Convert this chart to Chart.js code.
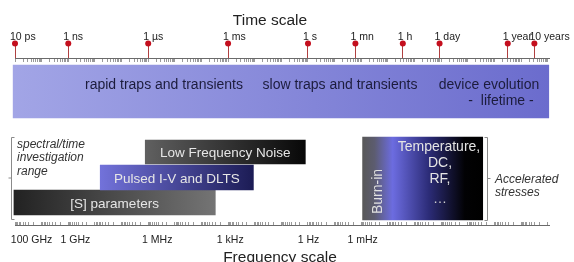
<!DOCTYPE html>
<html>
<head>
<meta charset="utf-8">
<script src="https://cdn.jsdelivr.net/npm/chart.js@4"></script>
<style>
    html, body { margin: 0; padding: 0; background: #fff; }
</style>
</head>
<body>
<canvas id="chart" width="574" height="262"></canvas>
<script>
// TIME SCALE (log10 of seconds)
const timeLabels = ['10 ps', '1 ns', '1 µs', '1 ms', '1 s', '1 mn', '1 h', '1 day', '1 year', '10 years']
const timeValues = [-11, -9, -6, -3, 0, 1.78, 3.56, 4.94, 7.5, 8.5]

// FREQUENCY SCALE (label positions on the same axis)
const freqLabels = ['100 GHz', '1 GHz', '1 MHz', '1 kHz', '1 Hz', '1 mHz', 'Quasi DC']
const freqValues = [-10.38, -8.73, -5.66, -2.92, 0.02, 2.05, 9.15]

// RANGES
const trapRange = [-11.07, 9.04]
const stressRange = [2.05, 6.56]
const methodNames = ['Low Frequency Noise', 'Pulsed I-V and DLTS', '[S] parameters']
const methodFrom = [-6.11, -7.80, -11.04]
const methodTo = [-0.10, -2.05, -3.48]

// LAYOUT (pixel rows, canvas coordinates)
const rows = {
    dot: 43.5,
    timeAxis: 58,
    freqAxis: 225,
    trap: { y: 91.5, h: 53 },
    stress: { y: 178.5, h: 83 },
    methods: [{ y: 152, h: 24 }, { y: 177.5, h: 25 }, { y: 202.5, h: 25 }],
}
const axisMin = -11
const axisMax = 9.075
const FONT = '"Liberation Sans", Arial, sans-serif'

const methodColors = [
    [[0, '#606060'], [1, '#080808']],
    [[0, '#7272da'], [1, '#1c1c55']],
    [[0, '#222222'], [1, '#747474']],
]
const trapColors = [[0, '#a2a5e6'], [1, '#6b6ccd']]
const stressColors = [[0, '#585858'], [0.1, '#5c5c70'], [0.25, '#6c6ce0'], [0.55, '#2c2c78'], [0.85, '#020204'], [1, '#000000']]

const gradient = (stops, from, to) => (context) => {
    const chart = context.chart
    if (!chart.chartArea) return stops[0][1]
    const x = chart.scales.x
    const g = chart.ctx.createLinearGradient(x.getPixelForValue(from), 0, x.getPixelForValue(to), 0)
    stops.forEach(([o, c]) => g.addColorStop(o, c))
    return g
}

const barDataset = (label, range, row, colors) => ({
    type: 'bar',
    label,
    data: [{ x: range, y: row.y }],
    barThickness: row.h,
    backgroundColor: gradient(colors, range[0], range[1]),
    borderWidth: 0,
    stack: 'rows',
    clip: false,
})

const minorTime = []
const minorFreq = []
for (let d = -11; d < 10; d++) {
    for (let k = 1; k < 10; k++) {
        minorTime.push(d + Math.log10(k))
        minorFreq.push(d - Math.log10(k))
    }
}
const inAxis = (v) => v >= axisMin - 0.001 && v <= axisMax
const setTicks = (values) => (scale) => { scale.ticks = values.filter(inAxis).map(value => ({ value })) }
const noSidePadding = (scale) => { scale.paddingLeft = 0; scale.paddingRight = 0 }

// axis placed inside the plot: only tick marks, no labels
const markAxis = (values, yPos, tickLength, tickColor, withBorder) => ({
    type: 'linear',
    min: axisMin,
    max: axisMax,
    offset: false,
    position: { y: yPos },
    afterBuildTicks: setTicks(values),
    afterFit: noSidePadding,
    ticks: { display: false, autoSkip: false },
    grid: { drawOnChartArea: false, drawTicks: true, tickLength, tickColor, color: tickColor },
    border: { display: withBorder, color: '#6a6a6a' },
})

// TEXTS
const notes = [
    { text: 'Time scale', x: 270, y: 25, size: 15.5, color: '#222' },
    { text: 'Frequency scale', x: 280, y: 261.5, size: 15.5, color: '#222' },
    { text: 'rapid traps and transients', x: 164, y: 89, size: 14, color: '#1c1c3c' },
    { text: 'slow traps and transients', x: 340, y: 89, size: 14, color: '#1c1c3c' },
    { text: 'device evolution', x: 489, y: 89, size: 14, color: '#1c1c3c' },
    { text: '-  lifetime -', x: 501, y: 105, size: 14, color: '#1c1c3c' },
    { text: 'spectral/time', x: 17, y: 147.5, size: 12, color: '#333', italic: true, align: 'left' },
    { text: 'investigation', x: 17, y: 161, size: 12, color: '#333', italic: true, align: 'left' },
    { text: 'range', x: 17, y: 174.5, size: 12, color: '#333', italic: true, align: 'left' },
    { text: 'Accelerated', x: 495, y: 182.5, size: 12, color: '#333', italic: true, align: 'left' },
    { text: 'stresses', x: 495, y: 196, size: 12, color: '#333', italic: true, align: 'left' },
    { text: 'Temperature,', x: 439, y: 151, size: 14, color: '#e4e4e4' },
    { text: 'DC,', x: 440, y: 167, size: 14, color: '#e4e4e4' },
    { text: 'RF,', x: 440, y: 183, size: 14, color: '#e4e4e4' },
    { text: '…', x: 440, y: 203, size: 14, color: '#cfcfcf' },
    { text: 'Burn-in', x: 382, y: 191.5, size: 14, color: '#e0e0e0', rotate: true },
]

const brackets = [
    { x: 11, top: 137, bottom: 219, dir: 1 },
    { x: 487, top: 137, bottom: 220, dir: -1 },
]

const textPlugin = {
    id: 'texts',
    afterDatasetsDraw(chart) {
        const ctx = chart.ctx
        ctx.save()
        ctx.textBaseline = 'alphabetic'

        // method names in the middle of their bars
        chart.data.datasets.forEach((ds, i) => {
            if (!methodNames.includes(ds.label)) return
            const bar = chart.getDatasetMeta(i).data[0]
            const c = bar.getCenterPoint()
            ctx.font = `13.5px ${FONT}`
            ctx.fillStyle = '#e6e6e6'
            ctx.textAlign = 'center'
            ctx.fillText(ds.label, c.x, c.y + 5)
        })

        notes.forEach((n) => {
            ctx.font = `${n.italic ? 'italic ' : ''}${n.size}px ${FONT}`
            ctx.fillStyle = n.color
            ctx.textAlign = n.align || 'center'
            if (n.rotate) {
                ctx.save()
                ctx.translate(n.x, n.y)
                ctx.rotate(-Math.PI / 2)
                ctx.fillText(n.text, 0, 0)
                ctx.restore()
            } else {
                ctx.fillText(n.text, n.x, n.y)
            }
        })

        ctx.strokeStyle = '#8a8a8a'
        ctx.lineWidth = 1
        brackets.forEach((b) => {
            const mid = (b.top + b.bottom) / 2
            ctx.beginPath()
            ctx.moveTo(b.x + 3 * b.dir + 0.5, b.top + 0.5)
            ctx.lineTo(b.x + 0.5, b.top + 0.5)
            ctx.lineTo(b.x + 0.5, b.bottom + 0.5)
            ctx.lineTo(b.x + 3 * b.dir + 0.5, b.bottom + 0.5)
            ctx.moveTo(b.x + 0.5, mid)
            ctx.lineTo(b.x - 3 * b.dir + 0.5, mid)
            ctx.stroke()
        })
        ctx.restore()
    }
}

new Chart(document.getElementById('chart'), {
    type: 'bar',
    data: {
        datasets: [
            barDataset('traps', trapRange, rows.trap, trapColors),
            barDataset('stresses', stressRange, rows.stress, stressColors),
            ...methodNames.map((name, i) => barDataset(name, [methodFrom[i], methodTo[i]], rows.methods[i], methodColors[i])),
            {
                type: 'scatter',
                label: 'time marks',
                data: timeValues.map(v => ({ x: v, y: rows.dot })),
                pointRadius: 3,
                backgroundColor: '#c40f1e',
                borderWidth: 0,
                clip: false,
            },
        ]
    },
    options: {
        indexAxis: 'y',
        responsive: false,
        animation: false,
        events: [],
        layout: {
            padding: { top: 31.4, bottom: 6.4, left: 15, right: 24.3 }
        },
        plugins: {
            legend: { display: false },
            tooltip: { enabled: false },
        },
        scales: {
            x: {
                type: 'linear',
                position: 'bottom',
                min: axisMin,
                max: axisMax,
                offset: false,
                stacked: false,
                afterBuildTicks: setTicks(freqValues),
                afterFit: noSidePadding,
                ticks: {
                    autoSkip: false,
                    maxRotation: 0,
                    padding: 9,
                    color: '#222',
                    font: { family: FONT, size: 10.5 },
                    callback: (value, index) => freqLabels[index],
                },
                grid: { drawOnChartArea: false, drawTicks: false },
                border: { display: true, color: '#6a6a6a' },
            },
            xTime: {
                type: 'linear',
                position: 'top',
                min: axisMin,
                max: axisMax,
                offset: false,
                afterBuildTicks: setTicks(timeValues),
                afterFit: noSidePadding,
                ticks: {
                    autoSkip: false,
                    maxRotation: 0,
                    align: 'start',
                    labelOffset: -5,
                    padding: -1,
                    color: '#222',
                    font: { family: FONT, size: 10.5 },
                    callback: (value, index) => timeLabels[index],
                },
                grid: { drawOnChartArea: false, drawTicks: false },
                border: { display: false },
            },
            xStems: markAxis(timeValues, rows.dot, rows.timeAxis - rows.dot, '#b04040', false),
            xMinorT: markAxis(minorTime, rows.timeAxis, 3, '#9a9a9a', true),
            xMinorF: markAxis(minorFreq, rows.freqAxis - 3, 3, '#9a9a9a', false),
            y: {
                type: 'linear',
                display: false,
                offset: false,
                min: 42,
                max: 225,
                reverse: true,
            },
        }
    },
    plugins: [textPlugin],
})
</script>
</body>
</html>
